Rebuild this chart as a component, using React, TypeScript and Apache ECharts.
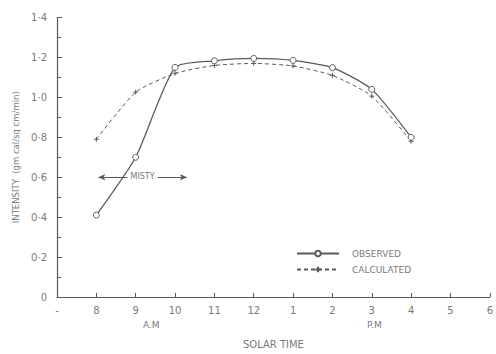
import React, { useEffect, useRef } from "react";
import * as echarts from "echarts";

const hours = [8, 9, 10, 11, 12, 13, 14, 15, 16];
const observed = [0.41, 0.7, 1.15, 1.183, 1.195, 1.185, 1.149, 1.04, 0.8];
const calculated = [0.79, 1.026, 1.12, 1.16, 1.17, 1.157, 1.11, 1.006, 0.78];
const mistyRange = [8.05, 10.3];
const mistyLevel = 0.6;

const grey = "#5a5a5a";
const textGrey = "#7a7a7a";

function hourLabel(v: number): string {
  if (v === 7) return "-";
  if (v <= 12) return String(v);
  return String(v - 12);
}

export default function App() {
  const ref = useRef<HTMLDivElement>(null);
  useEffect(() => {
    if (!ref.current) return;
    const chart = echarts.init(ref.current, null, { renderer: "svg" });
    const font = "DejaVu Sans";
    chart.setOption({
      animation: false,
      backgroundColor: "#ffffff",
      textStyle: { fontFamily: font, color: textGrey },
      grid: { left: 57, right: 1, top: 17.5, bottom: 53 },
      legend: {
        show: true,
        orient: "vertical",
        left: 291,
        top: 244,
        itemWidth: 42,
        itemHeight: 7,
        itemGap: 7,
        textStyle: { fontFamily: font, color: textGrey, fontSize: 9, padding: [0, 0, 0, 8] },
        data: ["OBSERVED", "CALCULATED"],
      },
      xAxis: {
        type: "value",
        min: 7,
        max: 18,
        interval: 1,
        name: "SOLAR TIME",
        nameLocation: "middle",
        nameGap: 42,
        nameTextStyle: { fontFamily: font, color: textGrey, fontSize: 10 },
        axisLine: { lineStyle: { color: grey, width: 1.2 } },
        axisTick: { inside: true, length: 4, lineStyle: { color: grey } },
        axisLabel: { formatter: hourLabel, color: textGrey, fontSize: 10, margin: 8 },
        splitLine: { show: false },
      },
      yAxis: {
        type: "value",
        min: 0,
        max: 1.4,
        interval: 0.2,
        name: "INTENSITY  (gm cal/sq cm/min)",
        nameLocation: "middle",
        nameGap: 36,
        nameTextStyle: { fontFamily: font, color: textGrey, fontSize: 8.5 },
        axisLine: { show: true, lineStyle: { color: grey, width: 1.2 } },
        axisTick: { inside: true, length: 5, lineStyle: { color: grey } },
        minorTick: { show: true, splitNumber: 2, length: 4, lineStyle: { color: grey } },
        axisLabel: {
          formatter: (v: number) => (v === 0 ? "0" : v.toFixed(1).replace(".", "·")),
          color: textGrey,
          fontSize: 10,
          margin: 10,
        },
        splitLine: { show: false },
      },
      graphic: [
        { type: "text", left: 143, top: 320, style: { text: "A.M", fill: textGrey, font: `9px ${font}` } },
        { type: "text", left: 367, top: 320, style: { text: "P.M", fill: textGrey, font: `9px ${font}` } },
      ],
      series: [
        {
          name: "OBSERVED",
          type: "line",
          data: hours.map((h, i) => [h, observed[i]]),
          smooth: 0.2,
          symbol: "circle",
          symbolSize: 6,
          lineStyle: { color: grey, width: 1.3 },
          itemStyle: { color: "#ffffff", borderColor: grey, borderWidth: 1 },
          z: 3,
          markLine: {
            silent: true,
            symbol: ["arrow", "arrow"],
            symbolSize: [5, 7],
            lineStyle: { color: grey, type: "solid", width: 1 },
            label: {
              show: true,
              position: "middle",
              formatter: "MISTY",
              color: textGrey,
              fontSize: 8,
              fontFamily: font,
              backgroundColor: "#ffffff",
              padding: [1, 3],
              distance: -4,
            },
            data: [
              [
                { coord: [mistyRange[0], mistyLevel] },
                { coord: [mistyRange[1], mistyLevel] },
              ],
            ],
          },
        },
        {
          name: "CALCULATED",
          type: "line",
          data: hours.map((h, i) => [h, calculated[i]]),
          smooth: 0.2,
          symbol: "path://M0,5 L10,5 M5,0 L5,10",
          symbolSize: 5,
          lineStyle: { color: grey, width: 1, type: [4, 3] },
          itemStyle: { color: grey, borderColor: grey, borderWidth: 1 },
          z: 2,
        },
      ],
    });
    return () => chart.dispose();
  }, []);
  return <div ref={ref} style={{ width: 496, height: 354, position: "absolute", left: 0, top: 0 }} />;
}
